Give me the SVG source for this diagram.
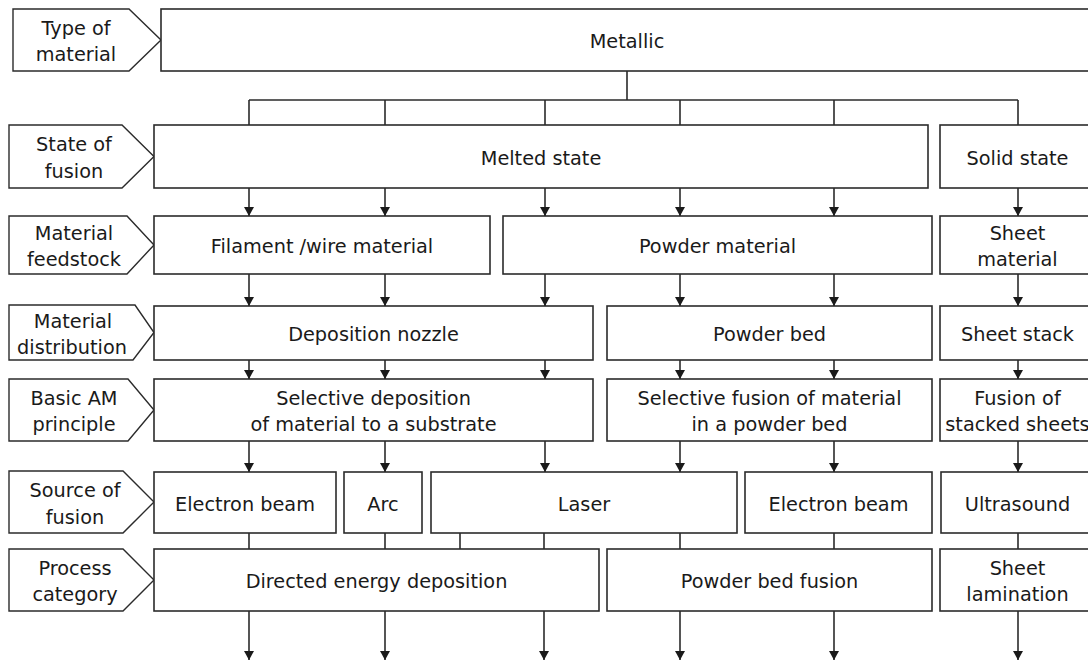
<svg xmlns="http://www.w3.org/2000/svg" width="1088" height="661" viewBox="0 0 1088 661">
<style>
.box{fill:#fff;stroke:#2b2b2b;stroke-width:1.6}
.lbl{fill:#fff;stroke:#2b2b2b;stroke-width:1.4}
text{font-family:"DejaVu Sans",Verdana,sans-serif;font-size:19.3px;fill:#1a1a1a;text-anchor:middle}
.c{fill:none;stroke:#2b2b2b;stroke-width:1.6}
.a{marker-end:url(#ah)}
</style>
<defs>
<marker id="ah" markerUnits="userSpaceOnUse" markerWidth="11" markerHeight="11" refX="9" refY="5" orient="auto"><path d="M0,0 L9,5 L0,10 z" fill="#1a1a1a"/></marker>
</defs>
<rect width="1088" height="661" fill="#fff"/>

<!-- row labels -->
<g id="lbl-type"><path class="lbl" d="M13,9 H129 L161,40 L129,71 H13 Z"/><text x="76" y="34.5">Type of</text><text x="76" y="61">material</text></g>
<g id="lbl-state"><path class="lbl" d="M9,125 H122 L154,156.5 L122,188 H9 Z"/><text x="74" y="151">State of</text><text x="74" y="177.5">fusion</text></g>
<g id="lbl-feed"><path class="lbl" d="M9,216 H127 L154,245 L127,274 H9 Z"/><text x="74" y="239.5">Material</text><text x="74" y="266">feedstock</text></g>
<g id="lbl-dist"><path class="lbl" d="M9,305 H135 L154,332.5 L133,360 H9 Z"/><text x="73" y="327.5">Material</text><text x="72" y="354">distribution</text></g>
<g id="lbl-basic"><path class="lbl" d="M9,379 H128 L154,410 L128,441 H9 Z"/><text x="74" y="404.5">Basic AM</text><text x="74" y="431">principle</text></g>
<g id="lbl-source"><path class="lbl" d="M9,471 H123 L154,502 L123,533 H9 Z"/><text x="75" y="497">Source of</text><text x="75" y="523.5">fusion</text></g>
<g id="lbl-process"><path class="lbl" d="M9,549 H123 L154,580 L123,611 H9 Z"/><text x="75" y="574.5">Process</text><text x="75" y="601">category</text></g>

<!-- row 1 -->
<g id="metallic"><rect class="box" x="161" y="9" width="934" height="62"/><text x="627" y="48">Metallic</text></g>
<!-- row 2 -->
<g id="melted"><rect class="box" x="154" y="125" width="774" height="63"/><text x="541" y="164.5">Melted state</text></g>
<g id="solid"><rect class="box" x="940" y="125" width="155" height="63"/><text x="1017.5" y="164.5">Solid state</text></g>
<!-- row 3 -->
<g id="filament"><rect class="box" x="154" y="216" width="336" height="58"/><text x="322" y="253">Filament /wire material</text></g>
<g id="powder-mat"><rect class="box" x="503" y="216" width="429" height="58"/><text x="717.5" y="253">Powder material</text></g>
<g id="sheet-mat"><rect class="box" x="940" y="216" width="155" height="58"/><text x="1017.5" y="239.5">Sheet</text><text x="1017.5" y="266">material</text></g>
<!-- row 4 -->
<g id="nozzle"><rect class="box" x="154" y="306" width="439" height="54"/><text x="373.5" y="341">Deposition nozzle</text></g>
<g id="powder-bed"><rect class="box" x="607" y="306" width="325" height="54"/><text x="769.5" y="341">Powder bed</text></g>
<g id="sheet-stack"><rect class="box" x="940" y="306" width="155" height="54"/><text x="1017.5" y="341">Sheet stack</text></g>
<!-- row 5 -->
<g id="sel-dep"><rect class="box" x="154" y="379" width="439" height="62"/><text x="373.5" y="404.5">Selective deposition</text><text x="373.5" y="431">of material to a substrate</text></g>
<g id="sel-fus"><rect class="box" x="607" y="379" width="325" height="62"/><text x="769.5" y="404.5">Selective fusion of material</text><text x="769.5" y="431">in a powder bed</text></g>
<g id="fus-stack"><rect class="box" x="940" y="379" width="155" height="62"/><text x="1017.5" y="404.5">Fusion of</text><text x="1017.5" y="431">stacked sheets</text></g>
<!-- row 6 -->
<g id="eb1"><rect class="box" x="154" y="472" width="182" height="61"/><text x="245" y="510.5">Electron beam</text></g>
<g id="arc"><rect class="box" x="344" y="472" width="78" height="61"/><text x="383" y="510.5">Arc</text></g>
<g id="laser"><rect class="box" x="431" y="472" width="306" height="61"/><text x="584" y="510.5">Laser</text></g>
<g id="eb2"><rect class="box" x="745" y="472" width="187" height="61"/><text x="838.5" y="510.5">Electron beam</text></g>
<g id="ultra"><rect class="box" x="941" y="472" width="154" height="61"/><text x="1017.5" y="510.5">Ultrasound</text></g>
<!-- row 7 -->
<g id="ded"><rect class="box" x="154" y="549" width="445" height="62"/><text x="376.5" y="588">Directed energy deposition</text></g>
<g id="pbf"><rect class="box" x="607" y="549" width="325" height="62"/><text x="769.5" y="588">Powder bed fusion</text></g>
<g id="sl"><rect class="box" x="940" y="549" width="155" height="62"/><text x="1017.5" y="574.5">Sheet</text><text x="1017.5" y="601">lamination</text></g>

<g id="connectors">
<path class="c" d="M627,71 V100 M249,100 H1018 M249,100 V125 M385,100 V125 M545,100 V125 M680,100 V125 M834,100 V125 M1018,100 V125"/>
<path class="c a" d="M249,188 V216"/><path class="c a" d="M385,188 V216"/><path class="c a" d="M545,188 V216"/><path class="c a" d="M680,188 V216"/><path class="c a" d="M834,188 V216"/><path class="c a" d="M1018,188 V216"/>
<path class="c a" d="M249,274 V306"/><path class="c a" d="M385,274 V306"/><path class="c a" d="M545,274 V306"/><path class="c a" d="M680,274 V306"/><path class="c a" d="M834,274 V306"/><path class="c a" d="M1018,274 V306"/>
<path class="c a" d="M249,360 V379"/><path class="c a" d="M385,360 V379"/><path class="c a" d="M545,360 V379"/><path class="c a" d="M680,360 V379"/><path class="c a" d="M834,360 V379"/><path class="c a" d="M1018,360 V379"/>
<path class="c a" d="M249,441 V472"/><path class="c a" d="M385,441 V472"/><path class="c a" d="M545,441 V472"/><path class="c a" d="M680,441 V472"/><path class="c a" d="M834,441 V472"/><path class="c a" d="M1018,441 V472"/>
<path class="c" d="M249,533 V549 M385,533 V549 M460,533 V549 M544,533 V549 M680,533 V549 M834,533 V549 M1018,533 V549"/>
<path class="c a" d="M249,611 V660"/><path class="c a" d="M385,611 V660"/><path class="c a" d="M544,611 V660"/><path class="c a" d="M680,611 V660"/><path class="c a" d="M834,611 V660"/><path class="c a" d="M1018,611 V660"/>
</g>
</svg>
